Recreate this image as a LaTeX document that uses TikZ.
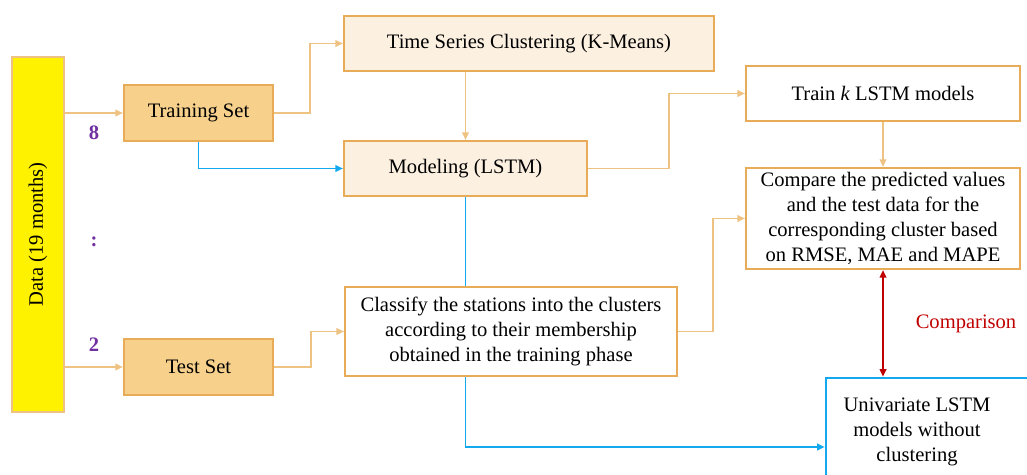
\documentclass[tikz,border=0pt]{standalone}
\usepackage{fontspec}
\setmainfont{Liberation Serif}
\usepackage{tikz}
\usetikzlibrary{arrows.meta}

\definecolor{boxline}{RGB}{232,172,88}
\definecolor{conline}{RGB}{238,194,130}
\definecolor{setfill}{RGB}{247,209,140}
\definecolor{stepfill}{RGB}{252,240,225}
\definecolor{cyanline}{RGB}{20,168,238}
\definecolor{redline}{RGB}{192,0,0}
\definecolor{ratiocol}{RGB}{112,48,160}

\begin{document}
\begin{tikzpicture}[x=0.02cm, y=-0.02cm,
  every node/.style={font=\fontsize{11.7}{14.2}\selectfont, inner sep=0pt},
  databox/.style={draw=conline, line width=1.2pt, fill=yellow, minimum width=1.04cm, minimum height=7.1cm},
  setbox/.style={draw=boxline, line width=1.2pt, fill=setfill, minimum width=2.98cm, minimum height=1.12cm},
  stepbox/.style={draw=boxline, line width=1.2pt, fill=stepfill, minimum height=1.1cm},
  plainbox/.style={draw=boxline, line width=1.2pt, fill=white, align=center},
  univbox/.style={draw=cyanline, line width=1.5pt, fill=white, minimum width=4.4cm, minimum height=2.76cm},
  oline/.style={conline, line width=1pt, -{Triangle[length=1.5mm,width=1.3mm]}},
  bline/.style={cyanline, line width=1pt},
  rline/.style={redline, line width=1pt, {Triangle[length=1.5mm,width=1.3mm]}-{Triangle[length=1.5mm,width=1.3mm]}},
  ratio/.style={text=ratiocol, font=\fontsize{11.7}{14.2}\selectfont\bfseries}]
\clip (0,0) rectangle (1027,475);

\node [databox] (data) at (38,234.5) {\rotatebox{90}{Data (19 months)}};
\node [setbox] (train) at (198.5,113) {Training Set};
\node [setbox] (test) at (198.5,367) {Test Set};
\node [stepbox, minimum width=7.4cm] (tsc) at (529,43.5) {Time Series Clustering (K-Means)};
\node [stepbox, minimum width=4.86cm] (model) at (465.5,168.5) {Modeling (LSTM)};
\node [plainbox, minimum width=5.48cm, minimum height=1.1cm] (traink) at (883,93.5) {Train \textit{k} LSTM models};
\node [plainbox, minimum width=5.48cm, minimum height=2.02cm] (comp) at (883,218.5)
  {Compare the predicted values\\and the test data for the\\corresponding cluster based\\on RMSE, MAE and MAPE};
\node [plainbox, minimum width=6.64cm, minimum height=1.78cm] (classify) at (511,331.5)
  {Classify the stations into the clusters\\according to their membership\\obtained in the training phase};
\node [univbox] (univ) at (936,447) {};
\node [align=center] (univtxt) at (917,432) {Univariate LSTM\\models without\\clustering};

\node [ratio] (eight) at (94,133) {8};
\node [ratio] (colon) at (94,242) {:};
\node [ratio] (two) at (94,345) {2};
\node [text=redline] (cmp) at (966,324) {Comparison};

% orange flow
\draw [oline] (data.east |- train.west) -- (train.west);
\draw [oline] (data.east |- test.west) -- (test.west);
\draw [oline] (train.east) -- ++(36,0) |- (tsc.west);
\draw [oline] (model.north |- tsc.south) -- (model.north);
\draw [oline] (model.east) -- ++(81,0) |- (traink.west);
\draw [oline] (traink.south) -- (comp.north);
\draw [oline] (test.east) -- ++(37,0) |- (classify.west);
\draw [oline] (classify.east) -- ++(35,0) |- (comp.west);

% blue flow
\draw [bline, -{Triangle[length=1.5mm,width=1.3mm]}] (train.south) |- (model.west);
\draw [bline] (model.south) -- (model.south |- classify.north);
\draw [bline, -{Triangle[length=1.5mm,width=1.3mm]}] (model.south |- classify.south) |- (univ.west);

% comparison
\draw [rline] (comp.south) -- (comp.south |- univ.north);
\end{tikzpicture}
\end{document}
